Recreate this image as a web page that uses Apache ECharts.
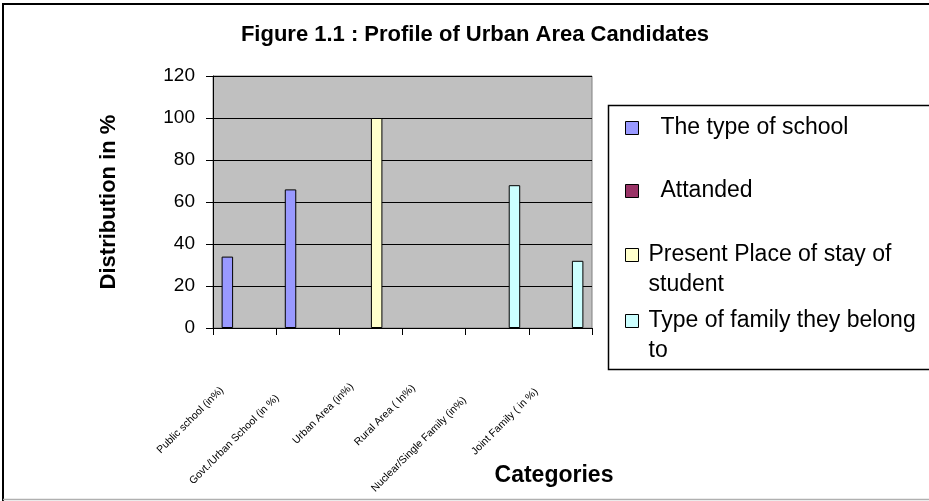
<!DOCTYPE html>
<html>
<head>
<meta charset="utf-8">
<script src="https://cdn.jsdelivr.net/npm/echarts@6/dist/echarts.min.js"></script>
<style>
  html, body { margin: 0; padding: 0; background: #ffffff; }
  #chart { width: 929px; height: 501px; }
</style>
</head>
<body>
<div id="chart"></div>
<script>
// Category labels along the x axis
const categories = [
  'Public school (in%)',
  'Govt./Urban School (in %)',
  'Urban Area (in%)',
  'Rural Area ( In%)',
  'Nuclear/Single Family (in%)',
  'Joint Family ( in %)'
];

// Series names (legend entries)
const seriesNames = [
  'The type of school',
  'Attanded',
  'Present Place of stay of student',
  'Type of family they belong to'
];

// Distribution values in %, one array per series
const schoolType  = [34, 66, null, null, null, null];
const attended    = [null, null, null, null, null, null];
const placeOfStay = [null, null, 100, 0, null, null];
const familyType  = [null, null, null, null, 68, 32];

// Value axis range
const yMin = 0, yMax = 120, yStep = 20;

const seriesValues = [schoolType, attended, placeOfStay, familyType];
const seriesColors = ['#9999FF', '#993366', '#FFFFCC', '#CCFFFF'];

const FONT = "'Liberation Sans', Arial, sans-serif";

const chart = echarts.init(document.getElementById('chart'), null, { renderer: 'canvas' });

// One legend block per entry, so each line sits where it should in the boxed key.
// Two-line entries get a leading blank line so the swatch lines up with the first text line.
const legendLayout = [
  { name: seriesNames[0], top: 113, pad: 17, text: 'The type of school' },
  { name: seriesNames[1], top: 176, pad: 17, text: 'Attanded' },
  { name: seriesNames[2], top: 210, pad: 5, text: '\nPresent Place of stay of\nstudent' },
  { name: seriesNames[3], top: 276, pad: 5, text: '\nType of family they belong\nto' }
];

const legends = legendLayout.map(l => ({
  data: [l.name],
  left: 625,
  top: l.top,
  orient: 'vertical',
  padding: 0,
  icon: 'rect',
  itemWidth: 13,
  itemHeight: 13,
  selectedMode: false,
  itemStyle: { borderColor: '#000000', borderWidth: 1 },
  formatter: () => l.text,
  textStyle: {
    fontFamily: FONT,
    fontSize: 23,
    color: '#000000',
    lineHeight: 30,
    padding: [0, 0, 0, l.pad]
  }
}));

// Rotated category labels: longer labels are pulled further back along their slant
const categoryData = categories.map(c => ({
  value: c,
  textStyle: { padding: [0, Math.round(c.length * 1.7), 0, 0] }
}));

const option = {
  animation: false,
  backgroundColor: '#ffffff',
  title: [
    {
      text: 'Figure 1.1 : Profile of Urban Area Candidates',
      left: 470,
      top: 19,
      textAlign: 'center',
      textStyle: { fontFamily: FONT, fontSize: 22, fontWeight: 'bold', color: '#000000' }
    },
    {
      text: 'Categories',
      left: 549,
      top: 459,
      textAlign: 'center',
      textStyle: { fontFamily: FONT, fontSize: 23, fontWeight: 'bold', color: '#000000' }
    }
  ],
  graphic: [
    // outer chart frame
    {
      type: 'rect', z: -10, silent: true,
      shape: { x: 3, y: 4, width: 960, height: 600 },
      style: { fill: 'none', stroke: '#000000', lineWidth: 2 }
    },
    {
      type: 'line', z: -10, silent: true,
      shape: { x1: 3, y1: 499.5, x2: 929, y2: 499.5 },
      style: { stroke: '#b0b0b0', lineWidth: 1.5 }
    },
    // legend frame
    {
      type: 'rect', z: -5, silent: true,
      shape: { x: 608.5, y: 105.5, width: 400, height: 264 },
      style: { fill: '#ffffff', stroke: '#000000', lineWidth: 1.5 }
    }
  ],
  legend: legends,
  grid: {
    left: 213,
    top: 76,
    width: 379,
    height: 252,
    show: true,
    backgroundColor: '#C0C0C0',
    borderColor: '#808080',
    borderWidth: 1,
    containLabel: false
  },
  xAxis: {
    type: 'category',
    data: categoryData,
    axisLine: { lineStyle: { color: '#000000', width: 1 } },
    axisTick: { show: true, length: 7, lineStyle: { color: '#000000' } },
    axisLabel: {
      interval: 0,
      rotate: 45,
      margin: 38,
      fontFamily: FONT,
      fontSize: 10.5,
      color: '#000000'
    },
    splitLine: { show: false }
  },
  yAxis: {
    type: 'value',
    min: yMin,
    max: yMax,
    interval: yStep,
    name: 'Distribution in %',
    nameLocation: 'middle',
    nameGap: 93,
    nameTextStyle: { fontFamily: FONT, fontSize: 22, fontWeight: 'bold', color: '#000000' },
    axisLine: { show: true, lineStyle: { color: '#000000', width: 1 } },
    axisTick: { show: true, length: 7, lineStyle: { color: '#000000' } },
    axisLabel: { margin: 18, fontFamily: FONT, fontSize: 19, color: '#000000' },
    splitLine: { show: true, lineStyle: { color: '#000000', width: 1 } }
  },
  series: seriesNames.map((name, i) => ({
    name,
    type: 'bar',
    // a zero-height column leaves no outline on the axis
    data: seriesValues[i].map(v => (v === 0 ? { value: v, itemStyle: { borderWidth: 0 } } : v)),
    barGap: '0%',
    barCategoryGap: '27.3%',
    itemStyle: { color: seriesColors[i], borderColor: '#000000', borderWidth: 1 }
  }))
};

chart.setOption(option);
</script>
</body>
</html>
